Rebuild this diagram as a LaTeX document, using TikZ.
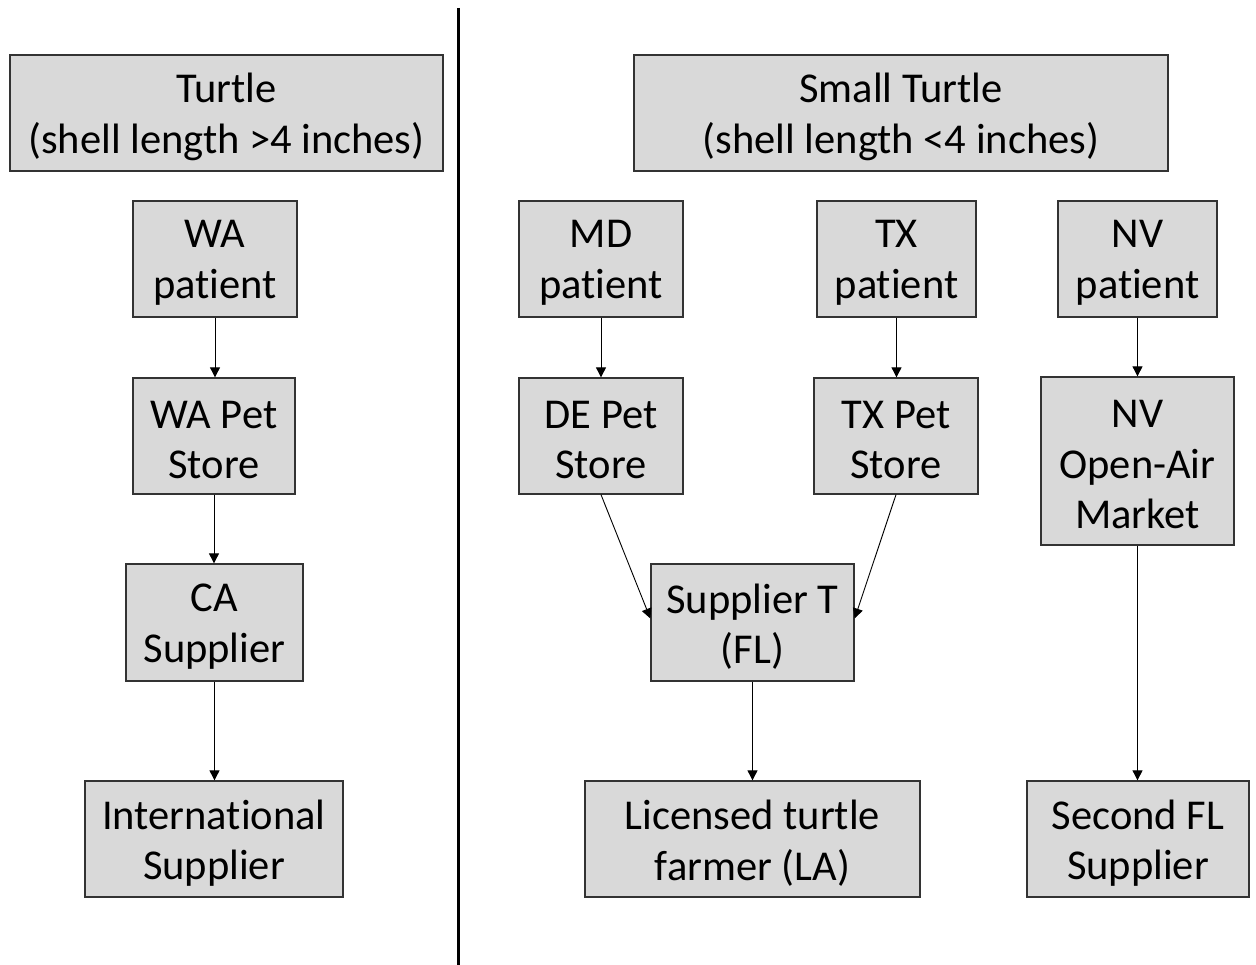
\documentclass[tikz,border=0pt]{standalone}
\usepackage{fontspec}
\setmainfont{Carlito}[Ligatures={NoCommon}]
\usetikzlibrary{arrows.meta,calc}
\definecolor{boxfill}{HTML}{D9D9D9}
\definecolor{boxline}{HTML}{333333}
\begin{document}
\begin{tikzpicture}[x=1pt,y=-1pt,
  boxtext/.style={inner sep=0pt, align=center, yshift=-4pt,
    font=\fontsize{42.5}{50.5}\selectfont},
  box/.style={draw=boxline, line width=1.3pt, fill=boxfill, inner sep=0pt,
    label={[boxtext]center:{#1}}},
  conn/.style={line width=0.9pt, -{Triangle[length=10pt,width=10pt]}}]
\useasboundingbox (0,0) rectangle (1256,965);
\draw[line width=3pt] (458,8) coordinate (vtop) -- (458,965) coordinate (vbot);
\node[box={Turtle\\(shell length >4 inches)}, minimum width=433pt, minimum height=116pt] (turtle) at (226.5,113) {};
\node[box={Small Turtle\\(shell length <4 inches)}, minimum width=534pt, minimum height=116pt] (small) at (901,113) {};
\node[box={WA\\patient}, minimum width=164pt, minimum height=116pt] (wap) at (215,259) {};
\node[box={WA Pet\\Store}, minimum width=162pt, minimum height=116pt] (waps) at (214,436) {};
\node[box={CA\\Supplier}, minimum width=177pt, minimum height=117pt] (ca) at (214.5,622.5) {};
\node[box={International\\Supplier}, minimum width=258pt, minimum height=116pt] (intl) at (214,839) {};
\node[box={MD\\patient}, minimum width=164pt, minimum height=116pt] (md) at (601,259) {};
\node[box={TX\\patient}, minimum width=159pt, minimum height=116pt] (txp) at (896.5,259) {};
\node[box={NV\\patient}, minimum width=159pt, minimum height=116pt] (nvp) at (1137.5,259) {};
\node[box={DE Pet\\Store}, minimum width=164pt, minimum height=116pt] (de) at (601,436) {};
\node[box={TX Pet\\Store}, minimum width=164pt, minimum height=116pt] (txs) at (896,436) {};
\node[box={NV\\Open-Air\\Market}, minimum width=193pt, minimum height=168pt] (nvm) at (1137.5,461) {};
\node[box={Supplier T\\(FL)}, minimum width=203pt, minimum height=117pt] (st) at (752.5,622.5) {};
\node[box={Licensed turtle\\farmer (LA)}, minimum width=335pt, minimum height=116pt] (lic) at (752.5,839) {};
\node[box={Second FL\\Supplier}, minimum width=222pt, minimum height=116pt] (sfl) at (1138,839) {};
\draw[conn] (wap.south) -- (waps.north -| wap.south);
\draw[conn] (waps.south) -- (ca.north -| waps.south);
\draw[conn] (ca.south) -- (intl.north -| ca.south);
\draw[conn] (md.south) -- (de.north);
\draw[conn] (txp.south) -- (txs.north -| txp.south);
\draw[conn] (nvp.south) -- (nvm.north -| nvp.south);
\draw[conn] (de.south) -- ($(st.west)+(0,-4)$);
\draw[conn] (txs.south) -- ($(st.east)+(0,-4)$);
\draw[conn] (st.south) -- (lic.north);
\draw[conn] (nvm.south) -- (sfl.north -| nvm.south);
\end{tikzpicture}
\end{document}
